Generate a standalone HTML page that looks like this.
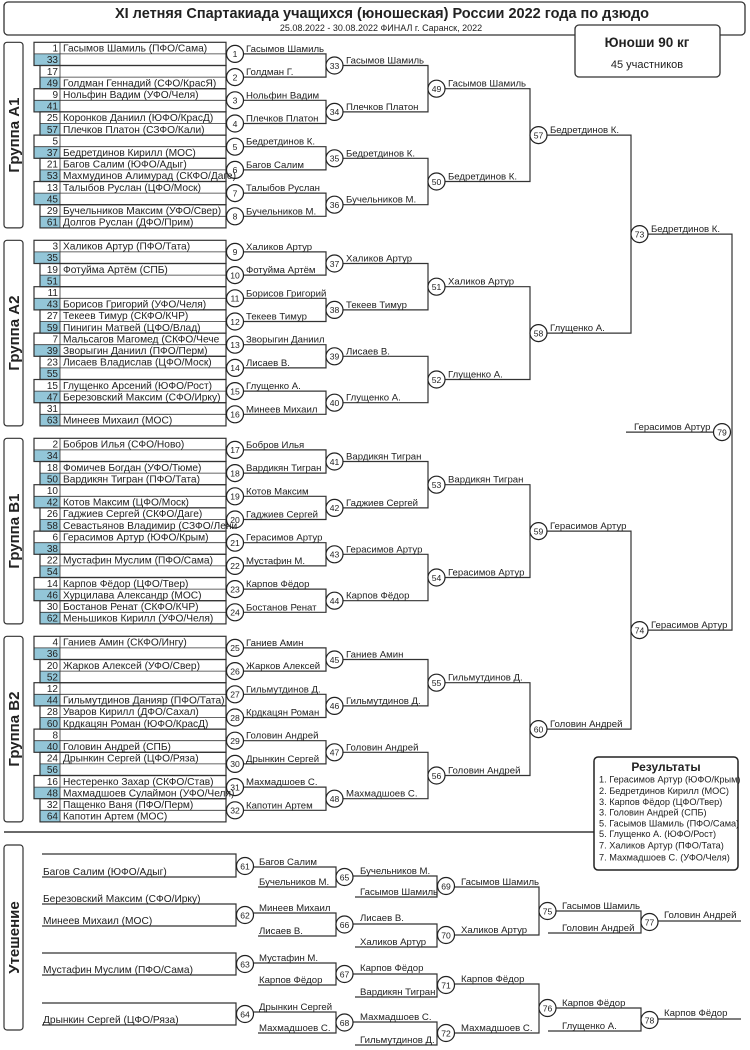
<!DOCTYPE html>
<html><head><meta charset="utf-8"><style>
html,body{margin:0;padding:0;background:#fff}
svg{display:block}
text{font-family:"Liberation Sans",sans-serif;fill:#222}
.r{font-size:10.2px}
.n{font-size:10px;text-anchor:end}
.c{font-size:8.6px;text-anchor:middle}
.w{font-size:9.6px}
.ln{fill:none;stroke:#333;stroke-width:1.2}
.ci{fill:#fff;stroke:#222;stroke-width:1.2}
.bl{fill:#93c6d8}
.pr{fill:none;stroke:#333;stroke-width:1.2}
.th{stroke:#333;stroke-width:0.8;fill:none}
.g{font-size:15px;font-weight:bold;text-anchor:middle}
.rs{font-size:9.2px}
</style></head><body>
<svg width="750" height="1050" viewBox="0 0 750 1050" xmlns="http://www.w3.org/2000/svg">
<defs>
<g id="fr">
<rect x="4" y="0" width="19" height="185.6" rx="3" class="pr"/>
<rect class="bl" x="34" y="11.6" width="26" height="11.6"/><rect class="pr" x="34" y="0" width="192" height="23.2"/><path class="th" d="M34 11.6H226M60 0V23.2"/>
<rect class="bl" x="40" y="34.8" width="20" height="11.6"/><rect class="pr" x="40" y="23.2" width="186" height="23.2"/><path class="th" d="M40 34.8H226M60 23.2V46.4"/>
<rect class="bl" x="34" y="58" width="26" height="11.6"/><rect class="pr" x="34" y="46.4" width="192" height="23.2"/><path class="th" d="M34 58H226M60 46.4V69.6"/>
<rect class="bl" x="40" y="81.2" width="20" height="11.6"/><rect class="pr" x="40" y="69.6" width="186" height="23.2"/><path class="th" d="M40 81.2H226M60 69.6V92.8"/>
<rect class="bl" x="34" y="104.4" width="26" height="11.6"/><rect class="pr" x="34" y="92.8" width="192" height="23.2"/><path class="th" d="M34 104.4H226M60 92.8V116"/>
<rect class="bl" x="40" y="127.6" width="20" height="11.6"/><rect class="pr" x="40" y="116" width="186" height="23.2"/><path class="th" d="M40 127.6H226M60 116V139.2"/>
<rect class="bl" x="34" y="150.8" width="26" height="11.6"/><rect class="pr" x="34" y="139.2" width="192" height="23.2"/><path class="th" d="M34 150.8H226M60 139.2V162.4"/>
<rect class="bl" x="40" y="174" width="20" height="11.6"/><rect class="pr" x="40" y="162.4" width="186" height="23.2"/><path class="th" d="M40 174H226M60 162.4V185.6"/>
<path class="ln" d="M243.5 11.6H326V34.8H243.5M243.5 58H326V81.2H243.5M243.5 104.4H326V127.6H243.5M243.5 150.8H326V174H243.5"/>
<path class="ln" d="M343 23.2H428V69.6H343M343 116H428V162.4H343"/>
<path class="ln" d="M445 46.4H530V139.2H445"/>
<circle class="ci" cx="235" cy="11.6" r="8.5"/><circle class="ci" cx="235" cy="34.8" r="8.5"/><circle class="ci" cx="235" cy="58" r="8.5"/><circle class="ci" cx="235" cy="81.2" r="8.5"/><circle class="ci" cx="235" cy="104.4" r="8.5"/><circle class="ci" cx="235" cy="127.6" r="8.5"/><circle class="ci" cx="235" cy="150.8" r="8.5"/><circle class="ci" cx="235" cy="174" r="8.5"/>
<circle class="ci" cx="334.5" cy="23.2" r="8.5"/><circle class="ci" cx="334.5" cy="69.6" r="8.5"/><circle class="ci" cx="334.5" cy="116" r="8.5"/><circle class="ci" cx="334.5" cy="162.4" r="8.5"/>
<circle class="ci" cx="436.5" cy="46.4" r="8.5"/><circle class="ci" cx="436.5" cy="139.2" r="8.5"/>
</g>
</defs>

<rect x="4" y="2" width="741" height="33" rx="4" fill="#fff" stroke="#333" stroke-width="1.3"/>
<text x="382" y="18" style="font-size:14.5px;font-weight:bold;text-anchor:middle">XI летняя Спартакиада учащихся (юношеская) России 2022 года по дзюдо</text>
<text x="381" y="31" style="font-size:9px;text-anchor:middle">25.08.2022 - 30.08.2022 ФИНАЛ г. Саранск, 2022</text>
<rect x="575" y="25" width="145" height="52" rx="4" fill="#fff" stroke="#333" stroke-width="1.3"/>
<text x="647" y="47" style="font-size:13.5px;font-weight:bold;text-anchor:middle">Юноши 90 кг</text>
<text x="647" y="68" style="font-size:11px;text-anchor:middle">45 участников</text>

<path class="ln" d="M547 135.1H631V333.1H547M547 531.1H631V729.1H547"/>
<path class="ln" d="M648 234.1H732V630.1H648"/>
<path class="ln" d="M626 432.1H713.5"/>

<g transform="translate(0,42.3)">
<use href="#fr"/>
<circle class="ci" cx="538.5" cy="92.8" r="8.5"/>
<text class="g" transform="translate(19,92.8) rotate(-90)">Группа A1</text>
<text class="n" x="58" y="9.3">1</text><text class="r" x="63" y="9.3">Гасымов Шамиль (ПФО/Сама)</text>
<text class="n" x="58" y="20.9">33</text>
<text class="n" x="58" y="32.5">17</text>
<text class="n" x="58" y="44.1">49</text><text class="r" x="63" y="44.1">Голдман Геннадий (СФО/КрасЯ)</text>
<text class="n" x="58" y="55.7">9</text><text class="r" x="63" y="55.7">Нольфин Вадим (УФО/Челя)</text>
<text class="n" x="58" y="67.3">41</text>
<text class="n" x="58" y="78.9">25</text><text class="r" x="63" y="78.9">Коронков Даниил (ЮФО/КрасД)</text>
<text class="n" x="58" y="90.5">57</text><text class="r" x="63" y="90.5">Плечков Платон (СЗФО/Кали)</text>
<text class="n" x="58" y="102.1">5</text>
<text class="n" x="58" y="113.7">37</text><text class="r" x="63" y="113.7">Бедретдинов Кирилл (МОС)</text>
<text class="n" x="58" y="125.3">21</text><text class="r" x="63" y="125.3">Багов Салим (ЮФО/Адыг)</text>
<text class="n" x="58" y="136.9">53</text><text class="r" x="63" y="136.9">Махмудинов Алимурад (СКФО/Даге)</text>
<text class="n" x="58" y="148.5">13</text><text class="r" x="63" y="148.5">Талыбов Руслан (ЦФО/Моск)</text>
<text class="n" x="58" y="160.1">45</text>
<text class="n" x="58" y="171.7">29</text><text class="r" x="63" y="171.7">Бучельников Максим (УФО/Свер)</text>
<text class="n" x="58" y="183.3">61</text><text class="r" x="63" y="183.3">Долгов Руслан (ДФО/Прим)</text>
<text class="c" x="235" y="14.9">1</text><text class="c" x="235" y="38.1">2</text><text class="c" x="235" y="61.3">3</text><text class="c" x="235" y="84.5">4</text><text class="c" x="235" y="107.7">5</text><text class="c" x="235" y="130.9">6</text><text class="c" x="235" y="154.1">7</text><text class="c" x="235" y="177.3">8</text>
<text class="c" x="334.5" y="26.5">33</text><text class="c" x="334.5" y="72.9">34</text><text class="c" x="334.5" y="119.3">35</text><text class="c" x="334.5" y="165.7">36</text>
<text class="c" x="436.5" y="49.7">49</text><text class="c" x="436.5" y="142.5">50</text>
<text class="c" x="538.5" y="96.1">57</text>
<text class="w" x="246" y="9.6">Гасымов Шамиль</text><text class="w" x="246" y="32.8">Голдман Г.</text><text class="w" x="246" y="56">Нольфин Вадим</text><text class="w" x="246" y="79.2">Плечков Платон</text><text class="w" x="246" y="102.4">Бедретдинов К.</text><text class="w" x="246" y="125.6">Багов Салим</text><text class="w" x="246" y="148.8">Талыбов Руслан</text><text class="w" x="246" y="172">Бучельников М.</text>
<text class="w" x="346" y="21.2">Гасымов Шамиль</text><text class="w" x="346" y="67.6">Плечков Платон</text><text class="w" x="346" y="114">Бедретдинов К.</text><text class="w" x="346" y="160.4">Бучельников М.</text>
<text class="w" x="448" y="44.4">Гасымов Шамиль</text><text class="w" x="448" y="137.2">Бедретдинов К.</text>
<text class="w" x="550" y="90.8">Бедретдинов К.</text>
</g>

<g transform="translate(0,240.3)">
<use href="#fr"/>
<circle class="ci" cx="538.5" cy="92.8" r="8.5"/>
<text class="g" transform="translate(19,92.8) rotate(-90)">Группа A2</text>
<text class="n" x="58" y="9.3">3</text><text class="r" x="63" y="9.3">Халиков Артур (ПФО/Тата)</text>
<text class="n" x="58" y="20.9">35</text>
<text class="n" x="58" y="32.5">19</text><text class="r" x="63" y="32.5">Фотуйма Артём (СПБ)</text>
<text class="n" x="58" y="44.1">51</text>
<text class="n" x="58" y="55.7">11</text>
<text class="n" x="58" y="67.3">43</text><text class="r" x="63" y="67.3">Борисов Григорий (УФО/Челя)</text>
<text class="n" x="58" y="78.9">27</text><text class="r" x="63" y="78.9">Текеев Тимур (СКФО/КЧР)</text>
<text class="n" x="58" y="90.5">59</text><text class="r" x="63" y="90.5">Пинигин Матвей (ЦФО/Влад)</text>
<text class="n" x="58" y="102.1">7</text><text class="r" x="63" y="102.1">Мальсагов Магомед (СКФО/Чече</text>
<text class="n" x="58" y="113.7">39</text><text class="r" x="63" y="113.7">Зворыгин Даниил (ПФО/Перм)</text>
<text class="n" x="58" y="125.3">23</text><text class="r" x="63" y="125.3">Лисаев Владислав (ЦФО/Моск)</text>
<text class="n" x="58" y="136.9">55</text>
<text class="n" x="58" y="148.5">15</text><text class="r" x="63" y="148.5">Глущенко Арсений (ЮФО/Рост)</text>
<text class="n" x="58" y="160.1">47</text><text class="r" x="63" y="160.1">Березовский Максим (СФО/Ирку)</text>
<text class="n" x="58" y="171.7">31</text>
<text class="n" x="58" y="183.3">63</text><text class="r" x="63" y="183.3">Минеев Михаил (МОС)</text>
<text class="c" x="235" y="14.9">9</text><text class="c" x="235" y="38.1">10</text><text class="c" x="235" y="61.3">11</text><text class="c" x="235" y="84.5">12</text><text class="c" x="235" y="107.7">13</text><text class="c" x="235" y="130.9">14</text><text class="c" x="235" y="154.1">15</text><text class="c" x="235" y="177.3">16</text>
<text class="c" x="334.5" y="26.5">37</text><text class="c" x="334.5" y="72.9">38</text><text class="c" x="334.5" y="119.3">39</text><text class="c" x="334.5" y="165.7">40</text>
<text class="c" x="436.5" y="49.7">51</text><text class="c" x="436.5" y="142.5">52</text>
<text class="c" x="538.5" y="96.1">58</text>
<text class="w" x="246" y="9.6">Халиков Артур</text><text class="w" x="246" y="32.8">Фотуйма Артём</text><text class="w" x="246" y="56">Борисов Григорий</text><text class="w" x="246" y="79.2">Текеев Тимур</text><text class="w" x="246" y="102.4">Зворыгин Даниил</text><text class="w" x="246" y="125.6">Лисаев В.</text><text class="w" x="246" y="148.8">Глущенко А.</text><text class="w" x="246" y="172">Минеев Михаил</text>
<text class="w" x="346" y="21.2">Халиков Артур</text><text class="w" x="346" y="67.6">Текеев Тимур</text><text class="w" x="346" y="114">Лисаев В.</text><text class="w" x="346" y="160.4">Глущенко А.</text>
<text class="w" x="448" y="44.4">Халиков Артур</text><text class="w" x="448" y="137.2">Глущенко А.</text>
<text class="w" x="550" y="90.8">Глущенко А.</text>
</g>

<g transform="translate(0,438.3)">
<use href="#fr"/>
<circle class="ci" cx="538.5" cy="92.8" r="8.5"/>
<text class="g" transform="translate(19,92.8) rotate(-90)">Группа B1</text>
<text class="n" x="58" y="9.3">2</text><text class="r" x="63" y="9.3">Бобров Илья (СФО/Ново)</text>
<text class="n" x="58" y="20.9">34</text>
<text class="n" x="58" y="32.5">18</text><text class="r" x="63" y="32.5">Фомичев Богдан (УФО/Тюме)</text>
<text class="n" x="58" y="44.1">50</text><text class="r" x="63" y="44.1">Вардикян Тигран (ПФО/Тата)</text>
<text class="n" x="58" y="55.7">10</text>
<text class="n" x="58" y="67.3">42</text><text class="r" x="63" y="67.3">Котов Максим (ЦФО/Моск)</text>
<text class="n" x="58" y="78.9">26</text><text class="r" x="63" y="78.9">Гаджиев Сергей (СКФО/Даге)</text>
<text class="n" x="58" y="90.5">58</text><text class="r" x="63" y="90.5">Севастьянов Владимир (СЗФО/Лени</text>
<text class="n" x="58" y="102.1">6</text><text class="r" x="63" y="102.1">Герасимов Артур (ЮФО/Крым)</text>
<text class="n" x="58" y="113.7">38</text>
<text class="n" x="58" y="125.3">22</text><text class="r" x="63" y="125.3">Мустафин Муслим (ПФО/Сама)</text>
<text class="n" x="58" y="136.9">54</text>
<text class="n" x="58" y="148.5">14</text><text class="r" x="63" y="148.5">Карпов Фёдор (ЦФО/Твер)</text>
<text class="n" x="58" y="160.1">46</text><text class="r" x="63" y="160.1">Хурцилава Александр (МОС)</text>
<text class="n" x="58" y="171.7">30</text><text class="r" x="63" y="171.7">Бостанов Ренат (СКФО/КЧР)</text>
<text class="n" x="58" y="183.3">62</text><text class="r" x="63" y="183.3">Меньшиков Кирилл (УФО/Челя)</text>
<text class="c" x="235" y="14.9">17</text><text class="c" x="235" y="38.1">18</text><text class="c" x="235" y="61.3">19</text><text class="c" x="235" y="84.5">20</text><text class="c" x="235" y="107.7">21</text><text class="c" x="235" y="130.9">22</text><text class="c" x="235" y="154.1">23</text><text class="c" x="235" y="177.3">24</text>
<text class="c" x="334.5" y="26.5">41</text><text class="c" x="334.5" y="72.9">42</text><text class="c" x="334.5" y="119.3">43</text><text class="c" x="334.5" y="165.7">44</text>
<text class="c" x="436.5" y="49.7">53</text><text class="c" x="436.5" y="142.5">54</text>
<text class="c" x="538.5" y="96.1">59</text>
<text class="w" x="246" y="9.6">Бобров Илья</text><text class="w" x="246" y="32.8">Вардикян Тигран</text><text class="w" x="246" y="56">Котов Максим</text><text class="w" x="246" y="79.2">Гаджиев Сергей</text><text class="w" x="246" y="102.4">Герасимов Артур</text><text class="w" x="246" y="125.6">Мустафин М.</text><text class="w" x="246" y="148.8">Карпов Фёдор</text><text class="w" x="246" y="172">Бостанов Ренат</text>
<text class="w" x="346" y="21.2">Вардикян Тигран</text><text class="w" x="346" y="67.6">Гаджиев Сергей</text><text class="w" x="346" y="114">Герасимов Артур</text><text class="w" x="346" y="160.4">Карпов Фёдор</text>
<text class="w" x="448" y="44.4">Вардикян Тигран</text><text class="w" x="448" y="137.2">Герасимов Артур</text>
<text class="w" x="550" y="90.8">Герасимов Артур</text>
</g>

<g transform="translate(0,636.3)">
<use href="#fr"/>
<circle class="ci" cx="538.5" cy="92.8" r="8.5"/>
<text class="g" transform="translate(19,92.8) rotate(-90)">Группа B2</text>
<text class="n" x="58" y="9.3">4</text><text class="r" x="63" y="9.3">Ганиев Амин (СКФО/Ингу)</text>
<text class="n" x="58" y="20.9">36</text>
<text class="n" x="58" y="32.5">20</text><text class="r" x="63" y="32.5">Жарков Алексей (УФО/Свер)</text>
<text class="n" x="58" y="44.1">52</text>
<text class="n" x="58" y="55.7">12</text>
<text class="n" x="58" y="67.3">44</text><text class="r" x="63" y="67.3">Гильмутдинов Данияр (ПФО/Тата)</text>
<text class="n" x="58" y="78.9">28</text><text class="r" x="63" y="78.9">Уваров Кирилл (ДФО/Сахал)</text>
<text class="n" x="58" y="90.5">60</text><text class="r" x="63" y="90.5">Крдкацян Роман (ЮФО/КрасД)</text>
<text class="n" x="58" y="102.1">8</text>
<text class="n" x="58" y="113.7">40</text><text class="r" x="63" y="113.7">Головин Андрей (СПБ)</text>
<text class="n" x="58" y="125.3">24</text><text class="r" x="63" y="125.3">Дрынкин Сергей (ЦФО/Ряза)</text>
<text class="n" x="58" y="136.9">56</text>
<text class="n" x="58" y="148.5">16</text><text class="r" x="63" y="148.5">Нестеренко Захар (СКФО/Став)</text>
<text class="n" x="58" y="160.1">48</text><text class="r" x="63" y="160.1">Махмадшоев Сулаймон (УФО/Челя)</text>
<text class="n" x="58" y="171.7">32</text><text class="r" x="63" y="171.7">Пащенко Ваня (ПФО/Перм)</text>
<text class="n" x="58" y="183.3">64</text><text class="r" x="63" y="183.3">Капотин Артем (МОС)</text>
<text class="c" x="235" y="14.9">25</text><text class="c" x="235" y="38.1">26</text><text class="c" x="235" y="61.3">27</text><text class="c" x="235" y="84.5">28</text><text class="c" x="235" y="107.7">29</text><text class="c" x="235" y="130.9">30</text><text class="c" x="235" y="154.1">31</text><text class="c" x="235" y="177.3">32</text>
<text class="c" x="334.5" y="26.5">45</text><text class="c" x="334.5" y="72.9">46</text><text class="c" x="334.5" y="119.3">47</text><text class="c" x="334.5" y="165.7">48</text>
<text class="c" x="436.5" y="49.7">55</text><text class="c" x="436.5" y="142.5">56</text>
<text class="c" x="538.5" y="96.1">60</text>
<text class="w" x="246" y="9.6">Ганиев Амин</text><text class="w" x="246" y="32.8">Жарков Алексей</text><text class="w" x="246" y="56">Гильмутдинов Д.</text><text class="w" x="246" y="79.2">Крдкацян Роман</text><text class="w" x="246" y="102.4">Головин Андрей</text><text class="w" x="246" y="125.6">Дрынкин Сергей</text><text class="w" x="246" y="148.8">Махмадшоев С.</text><text class="w" x="246" y="172">Капотин Артем</text>
<text class="w" x="346" y="21.2">Ганиев Амин</text><text class="w" x="346" y="67.6">Гильмутдинов Д.</text><text class="w" x="346" y="114">Головин Андрей</text><text class="w" x="346" y="160.4">Махмадшоев С.</text>
<text class="w" x="448" y="44.4">Гильмутдинов Д.</text><text class="w" x="448" y="137.2">Головин Андрей</text>
<text class="w" x="550" y="90.8">Головин Андрей</text>
</g>

<circle class="ci" cx="639.5" cy="234.1" r="8.5"/><text class="c" x="639.5" y="237.4">73</text>
<circle class="ci" cx="639.5" cy="630.1" r="8.5"/><text class="c" x="639.5" y="633.4">74</text>
<circle class="ci" cx="722" cy="432.1" r="8.5"/><text class="c" x="722" y="435.4">79</text>
<text class="w" x="651" y="232">Бедретдинов К.</text>
<text class="w" x="651" y="628">Герасимов Артур</text>
<text class="w" x="634" y="430">Герасимов Артур</text>

<path d="M4 832H594" stroke="#555" stroke-width="1.8"/>

<rect x="594" y="757" width="144" height="113" rx="4" fill="#fff" stroke="#222" stroke-width="1.5"/>
<text x="666" y="771" style="font-size:12px;font-weight:bold;text-anchor:middle">Результаты</text>
<text class="rs" x="599" y="782.5">1. Герасимов Артур (ЮФО/Крым)</text>
<text class="rs" x="599" y="794">2. Бедретдинов Кирилл (МОС)</text>
<text class="rs" x="599" y="805">3. Карпов Фёдор (ЦФО/Твер)</text>
<text class="rs" x="599" y="815.5">3. Головин Андрей (СПБ)</text>
<text class="rs" x="599" y="826.5">5. Гасымов Шамиль (ПФО/Сама)</text>
<text class="rs" x="599" y="837">5. Глущенко А. (ЮФО/Рост)</text>
<text class="rs" x="599" y="848.5">7. Халиков Артур (ПФО/Тата)</text>
<text class="rs" x="599" y="860.5">7. Махмадшоев С. (УФО/Челя)</text>

<rect x="4" y="845" width="19" height="185" rx="3" class="pr"/>
<text class="g" transform="translate(19,937.5) rotate(-90)">Утешение</text>

<path class="ln" d="M42 854H236V877H42M42 904H236V926H42M42 953H236V975H42M42 1003H236V1025H42"/>
<text class="r" x="43" y="875">Багов Салим (ЮФО/Адыг)</text>
<text class="r" x="43" y="902">Березовский Максим (СФО/Ирку)</text>
<text class="r" x="43" y="924">Минеев Михаил (МОС)</text>
<text class="r" x="43" y="973">Мустафин Муслим (ПФО/Сама)</text>
<text class="r" x="43" y="1023">Дрынкин Сергей (ЦФО/Ряза)</text>

<path class="ln" d="M253.5 867H336V887H258M253.5 913H336V936H258M253.5 963H336V985H258M253.5 1012H336V1033H258"/>
<text class="w" x="259" y="865">Багов Салим</text><text class="w" x="259" y="885">Бучельников М.</text>
<text class="w" x="259" y="911">Минеев Михаил</text><text class="w" x="259" y="934">Лисаев В.</text>
<text class="w" x="259" y="961">Мустафин М.</text><text class="w" x="259" y="983">Карпов Фёдор</text>
<text class="w" x="259" y="1010">Дрынкин Сергей</text><text class="w" x="259" y="1031">Махмадшоев С.</text>

<path class="ln" d="M353 876H437V897H355M353 924H437V947H355M353 974H437V997H355M353 1022H437V1045H355"/>
<text class="w" x="360" y="874">Бучельников М.</text><text class="w" x="360" y="895">Гасымов Шамиль</text>
<text class="w" x="360" y="921">Лисаев В.</text><text class="w" x="360" y="945">Халиков Артур</text>
<text class="w" x="360" y="971">Карпов Фёдор</text><text class="w" x="360" y="995">Вардикян Тигран</text>
<text class="w" x="360" y="1020">Махмадшоев С.</text><text class="w" x="360" y="1043">Гильмутдинов Д.</text>

<path class="ln" d="M454.5 887H539V935H454.5M454.5 984H539V1033H454.5"/>
<text class="w" x="461" y="885">Гасымов Шамиль</text><text class="w" x="461" y="933">Халиков Артур</text>
<text class="w" x="461" y="982">Карпов Фёдор</text><text class="w" x="461" y="1031">Махмадшоев С.</text>

<path class="ln" d="M556 911H641V933H548M556 1008H641V1031H548"/>
<text class="w" x="562" y="909">Гасымов Шамиль</text><text class="w" x="562" y="931">Головин Андрей</text>
<text class="w" x="562" y="1006">Карпов Фёдор</text><text class="w" x="562" y="1029">Глущенко А.</text>

<path class="ln" d="M658 921H741M658 1019H741"/>
<text class="w" x="664" y="918">Головин Андрей</text>
<text class="w" x="664" y="1016">Карпов Фёдор</text>

<circle class="ci" cx="245" cy="866" r="8.5"/><text class="c" x="245" y="869.3">61</text>
<circle class="ci" cx="245" cy="915" r="8.5"/><text class="c" x="245" y="918.3">62</text>
<circle class="ci" cx="245" cy="964" r="8.5"/><text class="c" x="245" y="967.3">63</text>
<circle class="ci" cx="245" cy="1014" r="8.5"/><text class="c" x="245" y="1017.3">64</text>
<circle class="ci" cx="344.5" cy="877" r="8.5"/><text class="c" x="344.5" y="880.3">65</text>
<circle class="ci" cx="344.5" cy="924.5" r="8.5"/><text class="c" x="344.5" y="927.8">66</text>
<circle class="ci" cx="344.5" cy="974" r="8.5"/><text class="c" x="344.5" y="977.3">67</text>
<circle class="ci" cx="344.5" cy="1022.5" r="8.5"/><text class="c" x="344.5" y="1025.8">68</text>
<circle class="ci" cx="446" cy="886" r="8.5"/><text class="c" x="446" y="889.3">69</text>
<circle class="ci" cx="446" cy="935" r="8.5"/><text class="c" x="446" y="938.3">70</text>
<circle class="ci" cx="446" cy="985" r="8.5"/><text class="c" x="446" y="988.3">71</text>
<circle class="ci" cx="446" cy="1033" r="8.5"/><text class="c" x="446" y="1036.3">72</text>
<circle class="ci" cx="547.5" cy="911" r="8.5"/><text class="c" x="547.5" y="914.3">75</text>
<circle class="ci" cx="547.5" cy="1008" r="8.5"/><text class="c" x="547.5" y="1011.3">76</text>
<circle class="ci" cx="649.5" cy="922" r="8.5"/><text class="c" x="649.5" y="925.3">77</text>
<circle class="ci" cx="649.5" cy="1020" r="8.5"/><text class="c" x="649.5" y="1023.3">78</text>
</svg>
</body></html>
